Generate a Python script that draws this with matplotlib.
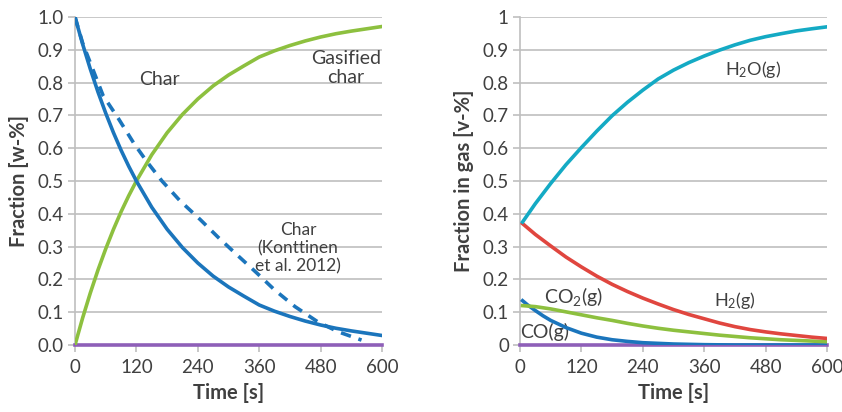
import matplotlib
matplotlib.use("Agg")
import matplotlib.pyplot as plt
from matplotlib.ticker import FixedLocator

# ---------------- data ----------------
t_model = [0, 15, 30, 45, 60, 75, 90, 105, 120, 150, 180, 210, 240, 270, 300, 330, 360, 390, 420,
           450, 480, 510, 540, 570, 600]
char_model = [1.0, 0.917, 0.841, 0.771, 0.707, 0.648, 0.594, 0.545, 0.50, 0.42, 0.353, 0.297, 0.25,
              0.21, 0.177, 0.149, 0.122, 0.103, 0.087, 0.073, 0.061, 0.051, 0.043, 0.036, 0.029]
gasified_char = [0.0, 0.083, 0.159, 0.229, 0.293, 0.352, 0.406, 0.455, 0.50, 0.58, 0.647, 0.703,
                 0.75, 0.79, 0.823, 0.851, 0.878, 0.897, 0.913, 0.927, 0.939, 0.949, 0.957, 0.964,
                 0.971]
t_konttinen = [0, 15, 35, 55, 85, 115, 140, 170, 205, 245, 280, 320, 355, 390, 430, 475, 515, 560]
char_konttinen = [1.0, 0.92, 0.84, 0.76, 0.69, 0.615, 0.56, 0.50, 0.44, 0.382, 0.328, 0.27,
                  0.22, 0.168, 0.117, 0.07, 0.04, 0.015]
zero_line = [0.0, 0.0]
t_zero = [0, 600]

t_gas = [5, 30, 60, 90, 120, 150, 180, 210, 240, 270, 300, 330, 360, 390, 420, 450, 480, 510, 540,
         570, 600]
h2o = [0.375, 0.431, 0.4925, 0.55, 0.602, 0.652, 0.699, 0.74, 0.777, 0.811, 0.838, 0.861, 0.881,
       0.899, 0.915, 0.929, 0.94, 0.949, 0.9575, 0.964, 0.97]
h2 = [0.37, 0.337, 0.302, 0.268, 0.238, 0.21, 0.185, 0.163, 0.143, 0.125, 0.108, 0.093, 0.080,
      0.067, 0.056, 0.047, 0.040, 0.034, 0.029, 0.024, 0.02]
co2 = [0.12, 0.117, 0.11, 0.101, 0.092, 0.083, 0.075, 0.066, 0.058, 0.051, 0.045, 0.04, 0.035,
       0.03, 0.026, 0.022, 0.019, 0.016, 0.014, 0.012, 0.01]
t_co = [5, 15, 30, 45, 60, 90, 120, 150, 180, 210, 240, 300, 360, 420, 600]
co = [0.135, 0.122, 0.105, 0.089, 0.075, 0.053, 0.036, 0.024, 0.016, 0.011, 0.007, 0.003, 0.001,
      0.0, 0.0]

x_ticks = [0, 120, 240, 360, 480, 600]
y_ticks = [0.0, 0.1, 0.2, 0.3, 0.4, 0.5, 0.6, 0.7, 0.8, 0.9, 1.0]
left_ylabels = ["0.0", "0.1", "0.2", "0.3", "0.4", "0.5", "0.6", "0.7", "0.8", "0.9", "1.0"]
right_ylabels = ["0", "0.1", "0.2", "0.3", "0.4", "0.5", "0.6", "0.7", "0.8", "0.9", "1"]

# ---------------- style ----------------
plt.rcParams['font.family'] = ['Lato', 'DejaVu Sans']
plt.rcParams['mathtext.fontset'] = 'custom'
plt.rcParams['mathtext.rm'] = 'Lato'
plt.rcParams['mathtext.it'] = 'Lato:italic'
plt.rcParams['mathtext.bf'] = 'Lato:bold'
TXT = '#404040'
GRID = '#BFBFBF'
BLUE = '#1B75BC'
GREEN = '#8DC03F'
CYAN = '#14AAC4'
RED = '#E0463F'
PURPLE = '#8E5FB8'
LW = 2.6

fig = plt.figure(figsize=(8.42, 4.12), dpi=100)
axL = fig.add_axes([75/842, 67/412, 307/842, 328/412])
axR = fig.add_axes([520/842, 67/412, 307/842, 328/412])


def style(ax, ylabels):
    ax.set_xlim(0, 600)
    ax.set_ylim(0, 1.0)
    ax.xaxis.set_major_locator(FixedLocator(x_ticks))
    ax.set_xticklabels([str(v) for v in x_ticks])
    ax.yaxis.set_major_locator(FixedLocator(y_ticks))
    ax.set_yticklabels(ylabels)
    ax.grid(axis='y', color=GRID, linewidth=1.2)
    ax.set_axisbelow(True)
    for s in ['top', 'right']:
        ax.spines[s].set_visible(False)
    for s in ['left', 'bottom']:
        ax.spines[s].set_color(GRID)
        ax.spines[s].set_linewidth(1.2)
    ax.tick_params(axis='both', colors=GRID, labelcolor=TXT, labelsize=13.5,
                   length=5, width=1.2, direction='out')
    ax.tick_params(axis='x', pad=5)
    ax.tick_params(axis='y', pad=3)
    ax.set_xlabel('Time [s]', fontsize=14.5, fontweight='bold', color=TXT, labelpad=5)


# Left panel
style(axL, left_ylabels)
axL.plot(t_zero, zero_line, color=PURPLE, lw=LW, clip_on=False, zorder=3)
axL.plot(t_konttinen, char_konttinen, color=BLUE, lw=LW, dashes=(2.9, 2.2), zorder=4)
axL.plot(t_model, gasified_char, color=GREEN, lw=LW, zorder=5)
axL.plot(t_model, char_model, color=BLUE, lw=LW, zorder=6)
axL.set_ylabel('Fraction [w-%]', fontsize=14.5, fontweight='bold', color=TXT, labelpad=6)
axL.text(166, 0.81, 'Char', fontsize=14, color=TXT, ha='center', va='center')
axL.text(530, 0.845, 'Gasified\nchar', fontsize=14, color=TXT, ha='center', va='center',
         linespacing=1.1)
axL.text(436, 0.295, 'Char\n(Konttinen\net al. 2012)', fontsize=12.5, color=TXT,
         ha='center', va='center', linespacing=1.15)

# Right panel
style(axR, right_ylabels)
axR.plot(t_zero, zero_line, color=PURPLE, lw=LW, clip_on=False, zorder=3)
axR.plot(t_co, co, color=BLUE, lw=LW, zorder=4)
axR.plot(t_gas, co2, color=GREEN, lw=LW, zorder=5)
axR.plot(t_gas, h2, color=RED, lw=LW, zorder=6)
axR.plot(t_gas, h2o, color=CYAN, lw=LW, zorder=7)
axR.set_ylabel('Fraction in gas [v-%]', fontsize=14.5, fontweight='bold', color=TXT, labelpad=6)
axR.text(455, 0.84, 'H$_2$O(g)', fontsize=13, color=TXT, ha='center', va='center')
axR.text(420, 0.137, 'H$_2$(g)', fontsize=13, color=TXT, ha='center', va='center')
axR.text(104, 0.147, 'CO$_2$(g)', fontsize=14, color=TXT, ha='center', va='center')
axR.text(49, 0.04, 'CO(g)', fontsize=14, color=TXT, ha='center', va='center')

fig.savefig('out.png', dpi=100, facecolor='white')
